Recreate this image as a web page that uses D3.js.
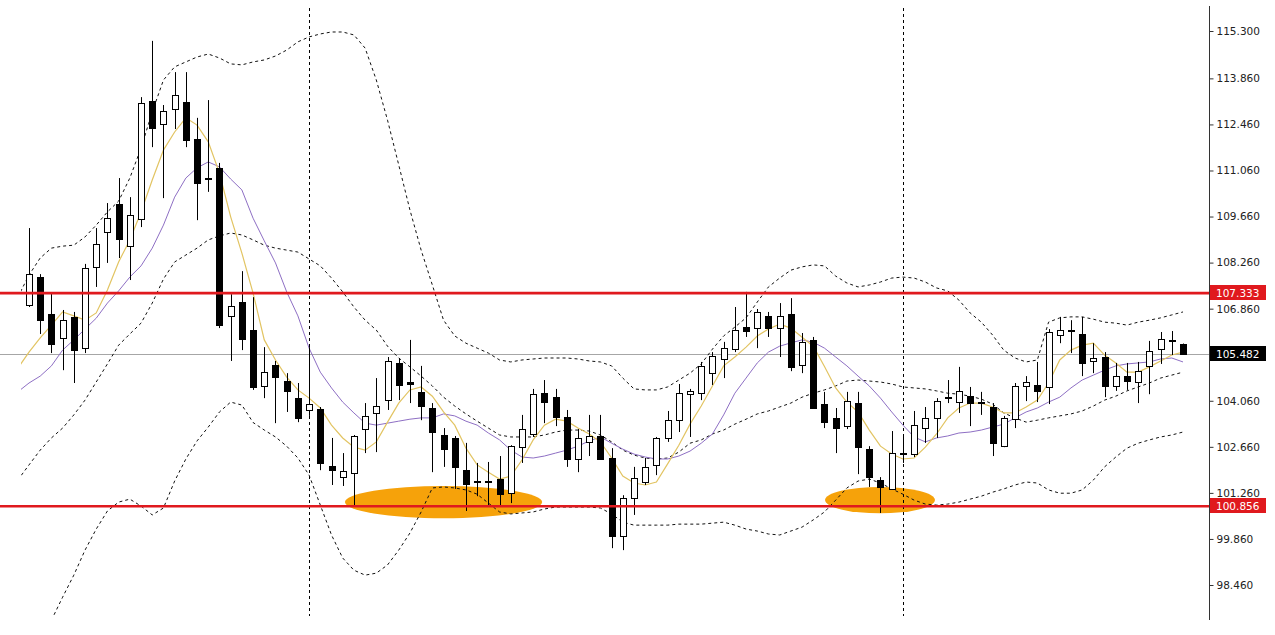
<!DOCTYPE html>
<html><head><meta charset="utf-8">
<script src="https://cdn.jsdelivr.net/npm/d3@7"></script>
<style>body{margin:0;background:#fff;} svg{display:block;}</style>
</head><body><svg id="c" width="1275" height="635"></svg>
<script>
// ---------- DATA ----------
const open=[106.97,107.82,106.70,105.97,106.61,105.66,108.13,109.19,110.04,108.76,
109.58,113.17,112.47,112.93,113.14,112.02,110.83,111.14,106.64,107.06,
106.21,104.51,105.15,104.66,104.14,103.78,103.81,102.08,101.74,101.86,
103.20,103.69,104.08,105.21,104.63,104.33,103.84,103.02,102.93,101.95,
101.62,101.63,101.68,101.26,102.65,103.05,104.30,104.17,103.57,102.29,
102.81,102.99,102.32,99.95,101.10,101.59,102.11,102.93,103.47,104.26,
104.30,104.90,105.33,105.63,106.30,106.27,106.64,106.27,106.70,105.15,
105.91,103.96,103.54,103.29,103.99,102.59,101.65,101.38,102.47,102.44,
103.23,103.54,104.17,104.02,104.20,104.02,103.87,102.68,103.50,104.51,
104.54,104.48,106.06,106.21,106.09,105.27,105.39,104.51,104.81,104.63,
105.12,105.63,105.91,105.78];
const high=[109.31,107.91,107.34,106.82,106.76,108.22,109.31,110.07,110.83,110.25,
113.29,115.00,113.05,114.05,114.05,112.66,113.20,111.29,107.30,108.00,
107.21,105.69,105.27,104.90,104.60,105.69,103.87,102.93,102.47,103.02,
103.99,104.75,105.39,105.36,105.91,105.12,103.99,103.23,102.99,102.78,
102.17,102.20,102.38,102.71,103.63,104.42,104.69,104.42,103.78,103.20,
103.63,103.63,102.62,101.19,102.05,102.32,102.96,103.75,104.57,104.42,
105.24,105.54,105.85,106.91,107.37,106.85,106.76,107.03,107.18,106.12,
106.00,104.33,103.84,104.33,104.33,102.68,101.74,103.14,102.96,103.75,
103.87,104.14,104.69,105.09,104.48,104.33,103.99,103.60,104.60,104.81,
105.24,106.24,106.61,106.51,106.61,105.81,105.54,105.21,105.21,105.24,
105.88,106.15,106.18,105.80];
const low=[106.91,106.09,105.51,104.99,104.60,105.51,107.52,108.25,108.40,107.73,
109.34,111.77,110.22,112.32,111.77,109.55,110.41,106.27,105.27,105.60,
104.39,104.14,103.38,103.72,103.41,103.60,101.95,101.50,101.47,100.86,
102.47,102.50,103.78,104.08,103.99,103.47,101.89,102.05,101.38,100.71,
101.16,100.89,100.89,100.95,102.17,102.96,103.38,103.29,102.05,101.89,
102.38,102.26,99.58,99.52,100.59,101.50,101.80,102.81,103.11,102.96,
104.08,104.54,104.75,105.54,106.00,105.66,106.00,105.39,104.96,104.90,
103.81,103.23,102.47,103.20,101.83,101.44,100.65,101.35,102.17,102.35,
102.78,102.93,103.99,103.69,103.29,103.63,102.38,102.65,103.23,104.05,
104.02,103.96,105.81,105.51,104.81,104.90,104.17,104.36,104.39,103.99,
104.26,105.18,105.45,105.47];
const close=[107.91,106.51,105.78,106.51,105.60,108.10,108.82,109.62,108.98,109.71,
113.11,112.35,112.87,113.35,111.99,110.68,110.80,106.36,106.94,105.94,
104.48,104.93,104.78,104.36,103.54,103.96,102.17,101.95,101.92,102.99,
103.60,103.90,105.27,104.54,104.58,103.90,103.11,102.59,102.05,101.53,
101.60,101.60,101.22,102.68,103.20,104.26,104.02,103.57,102.29,102.93,
102.99,102.29,99.95,101.10,101.71,102.05,102.93,103.47,104.30,104.36,
105.12,105.42,105.66,106.21,106.18,106.76,106.27,106.64,105.09,105.85,
103.84,103.41,103.23,104.05,102.65,101.74,101.44,102.47,102.44,103.32,
103.54,104.05,104.14,104.36,103.99,103.99,102.78,103.54,104.51,104.63,
104.36,106.15,106.21,106.18,105.21,105.36,104.51,104.81,104.66,104.96,
105.57,105.94,105.88,105.48];

// indicator series (first value belongs to the bar index given by *Start)
const bandStart=-1;
const upperBand=[107.21,107.88,108.40,108.70,108.76,108.79,109.04,109.40,109.80,110.13,
110.83,111.74,112.84,113.81,114.21,114.36,114.51,114.60,114.48,114.30,
114.27,114.36,114.42,114.54,114.72,114.97,115.12,115.21,115.27,115.27,
115.18,114.78,113.81,112.59,111.23,109.86,108.64,107.58,106.51,106.03,
105.81,105.66,105.51,105.30,105.24,105.30,105.33,105.36,105.36,105.36,
105.33,105.27,105.24,105.12,104.75,104.42,104.39,104.39,104.48,104.69,
104.90,105.18,105.63,106.03,106.30,106.58,107.06,107.52,107.79,108.03,
108.13,108.19,108.16,107.85,107.64,107.52,107.58,107.67,107.79,107.82,
107.79,107.67,107.49,107.40,107.12,106.73,106.45,106.06,105.60,105.36,
105.24,105.30,106.45,106.58,106.61,106.61,106.54,106.45,106.42,106.36,
106.45,106.51,106.58,106.67,106.76];
const middleBand=[101.65,102.11,102.56,102.93,103.23,103.63,104.08,104.63,105.18,105.75,
106.09,106.42,107.03,107.76,108.28,108.49,108.70,108.95,109.07,109.16,
109.10,108.95,108.79,108.70,108.64,108.58,108.37,108.16,107.79,107.37,
106.91,106.51,106.21,105.72,105.36,105.09,104.81,104.51,104.17,103.90,
103.66,103.44,103.23,103.02,102.96,102.96,102.96,103.02,103.11,103.17,
103.17,103.14,103.02,102.81,102.56,102.41,102.32,102.29,102.32,102.50,
102.77,102.87,103.05,103.17,103.35,103.50,103.66,103.75,103.87,103.99,
104.17,104.29,104.39,104.51,104.66,104.69,104.66,104.63,104.57,104.48,
104.45,104.42,104.36,104.29,104.26,104.20,104.11,103.96,103.69,103.54,
103.41,103.47,103.54,103.60,103.66,103.75,103.90,104.08,104.20,104.36,
104.48,104.60,104.75,104.84,104.93];
const lowerStart=2;
const lowerBand=[97.39,98.09,98.76,99.52,100.16,100.71,100.98,101.07,100.86,100.59,
100.80,101.62,102.29,102.84,103.26,103.72,104.02,103.93,103.40,103.17,
102.96,102.68,102.32,101.80,100.89,99.98,99.28,98.91,98.76,98.82,
99.07,99.52,100.04,100.68,101.41,101.44,101.41,101.35,101.22,100.95,
100.68,100.62,100.65,100.68,100.77,100.83,100.83,100.83,100.83,100.80,
100.62,100.37,100.28,100.28,100.28,100.28,100.31,100.31,100.31,100.34,
100.37,100.28,100.16,100.10,100.01,99.98,100.10,100.22,100.44,100.68,
101.04,101.41,101.62,101.68,101.56,101.38,101.22,101.04,100.92,100.89,
100.92,100.98,101.07,101.16,101.28,101.38,101.50,101.59,101.56,101.35,
101.25,101.25,101.35,101.65,102.05,102.35,102.62,102.77,102.87,102.96,
103.02,103.11];
const maStart=-1;
const maFast=[105.05,105.54,105.97,106.36,106.76,106.64,106.51,106.73,107.43,108.28,
108.95,109.80,110.77,111.68,112.23,112.66,112.44,111.93,110.98,109.65,
108.55,107.33,105.91,105.30,104.78,104.39,104.14,103.84,103.32,102.93,
102.65,102.56,102.81,103.41,103.99,104.39,104.48,104.20,103.72,103.32,
102.62,102.11,101.89,101.68,101.77,102.26,102.87,103.32,103.50,103.44,
103.23,103.05,102.81,102.32,101.77,101.56,101.50,101.59,102.14,102.71,
103.35,103.90,104.51,105.12,105.39,105.69,106.03,106.24,106.39,106.27,
105.99,105.72,105.10,104.45,104.02,103.72,103.17,102.68,102.44,102.29,
102.32,102.65,103.05,103.54,103.84,103.99,103.99,103.87,103.69,103.69,
103.87,104.08,104.60,105.30,105.60,105.75,105.81,105.45,105.21,104.93,
104.93,105.09,105.27,105.45,105.54];
const maSlow=[104.33,104.60,104.81,105.12,105.60,105.91,106.24,106.57,107.03,107.40,
107.82,108.16,108.70,109.40,110.25,110.83,111.14,111.32,111.17,110.80,
110.47,109.61,108.92,108.25,107.37,106.64,105.66,104.93,104.45,104.02,
103.69,103.38,103.32,103.38,103.44,103.50,103.54,103.54,103.66,103.60,
103.44,103.32,103.08,102.87,102.56,102.35,102.32,102.38,102.47,102.56,
102.68,102.84,102.96,102.77,102.59,102.44,102.35,102.29,102.29,102.38,
102.53,102.77,103.05,103.63,104.29,104.75,105.21,105.54,105.72,105.82,
105.91,105.84,105.66,105.39,105.12,104.81,104.51,104.14,103.72,103.32,
102.96,102.81,102.93,102.99,103.08,103.11,103.17,103.26,103.35,103.54,
103.72,103.84,104.02,104.17,104.45,104.69,104.84,104.99,105.12,105.18,
105.21,105.24,105.33,105.36,105.24];

const tickLabels=["115.300","113.860","112.460","111.060","109.660","108.260","106.860","104.060","102.660","101.260","99.860","98.460"];
const levelPrices=[107.333,100.856];
const currentPrice=105.482;
const separatorBars=[25,78];
// highlighted zones: bar range and price centre / half height
const zoneBarFrom=[28.2,71.05];
const zoneBarTo=[45.8,80.86];
const zonePrice=[100.98,101.04];
const zoneHalf=[0.49,0.40];

// ---------- CHART ----------
const svg=d3.select('#c');
const axisX=1209, plotL=21, plotT=8, plotB=616;
const x=d3.scaleLinear().domain([0,open.length-1]).range([29,1183]);
const y=d3.scaleLinear().domain([98.46,115.3]).range([585,31]);

svg.append('defs').append('clipPath').attr('id','plot')
  .append('rect').attr('x',plotL).attr('y',plotT).attr('width',axisX-plotL).attr('height',plotB-plotT);

// zones
const zones=zoneBarFrom.map((f,i)=>({f,t:zoneBarTo[i],p:zonePrice[i],h:zoneHalf[i]}));
svg.append('g').selectAll('ellipse').data(zones).join('ellipse')
  .attr('cx',d=>(x(d.f)+x(d.t))/2).attr('cy',d=>y(d.p))
  .attr('rx',d=>(x(d.t)-x(d.f))/2).attr('ry',d=>y(d.p-d.h)-y(d.p))
  .attr('fill','#f6a20a');

// current price line
svg.append('line').attr('x1',0).attr('x2',axisX).attr('y1',Math.round(y(currentPrice))+0.5).attr('y2',Math.round(y(currentPrice))+0.5)
  .attr('stroke','#a6a6a6').attr('stroke-width',1);

// separators
svg.append('g').selectAll('line').data(separatorBars).join('line')
  .attr('x1',d=>Math.round(x(d))+0.5).attr('x2',d=>Math.round(x(d))+0.5)
  .attr('y1',plotT).attr('y2',plotB)
  .attr('stroke','#000').attr('stroke-width',1).attr('stroke-dasharray','3,3');

const gPlot=svg.append('g').attr('clip-path','url(#plot)');
function series(arr,start){return arr.map((v,i)=>[start+i,v]);}
const line=d3.line().x(d=>x(d[0])).y(d=>y(d[1]));

[[upperBand,bandStart],[middleBand,bandStart],[lowerBand,lowerStart]].forEach(([a,s])=>{
  gPlot.append('path').attr('d',line(series(a,s))).attr('fill','none')
    .attr('stroke','#111').attr('stroke-width',1).attr('stroke-dasharray','3,3');
});
gPlot.append('path').attr('d',line(series(maSlow,maStart))).attr('fill','none').attr('stroke','#8e6fc4').attr('stroke-width',1);
gPlot.append('path').attr('d',line(series(maFast,maStart))).attr('fill','none').attr('stroke','#e2c462').attr('stroke-width',1.2);

// candles
const bars=open.map((o,i)=>({i,o,h:high[i],l:low[i],c:close[i]}));
const gC=gPlot.append('g');
const bw=7;
gC.selectAll('line.w').data(bars).join('line').attr('class','w')
  .attr('x1',d=>Math.round(x(d.i))+0.5).attr('x2',d=>Math.round(x(d.i))+0.5)
  .attr('y1',d=>y(d.h)).attr('y2',d=>y(d.l)).attr('stroke','#000').attr('stroke-width',1);
gC.selectAll('rect').data(bars).join('rect')
  .attr('x',d=>Math.round(x(d.i))-3+0.5-0.5*0)
  .attr('y',d=>Math.round(y(Math.max(d.o,d.c)))+0.5)
  .attr('width',bw-1)
  .attr('height',d=>Math.max(1,Math.round(Math.abs(y(d.o)-y(d.c)))))
  .attr('fill',d=>d.c>d.o?'#fff':'#000')
  .attr('stroke','#000').attr('stroke-width',1);

// level lines
svg.append('g').selectAll('line').data(levelPrices).join('line')
  .attr('x1',0).attr('x2',axisX).attr('y1',d=>y(d)).attr('y2',d=>y(d))
  .attr('stroke','#e0191e').attr('stroke-width',2.6);

// axis
svg.append('line').attr('x1',axisX+0.5).attr('x2',axisX+0.5).attr('y1',plotT-2).attr('y2',plotB+4)
  .attr('stroke','#333').attr('stroke-width',1);
const ax=d3.axisRight(y).tickValues(tickLabels.map(Number)).tickFormat(d3.format('.3f')).tickSize(4).tickPadding(3);
const gA=svg.append('g').attr('transform',`translate(${axisX+0.5},0)`).call(ax);
gA.select('.domain').remove();
gA.selectAll('line').attr('stroke','#333');
gA.selectAll('text').attr('font-family','DejaVu Sans, sans-serif').attr('font-size','10.5px').attr('fill','#222');

// price tags
const tags=levelPrices.map(p=>({p,bg:'#e0191e'})).concat([{p:currentPrice,bg:'#000'}]);
const gT=svg.append('g').selectAll('g').data(tags).join('g')
  .attr('transform',d=>`translate(${axisX+1},${Math.round(y(d.p))})`);
gT.append('rect').attr('x',0).attr('y',-8).attr('width',56).attr('height',15).attr('fill',d=>d.bg);
gT.append('text').attr('x',6).attr('y',4).text(d=>d3.format('.3f')(d.p))
  .attr('font-family','DejaVu Sans, sans-serif').attr('font-size','10.5px').attr('fill','#fff');
</script></body></html>
